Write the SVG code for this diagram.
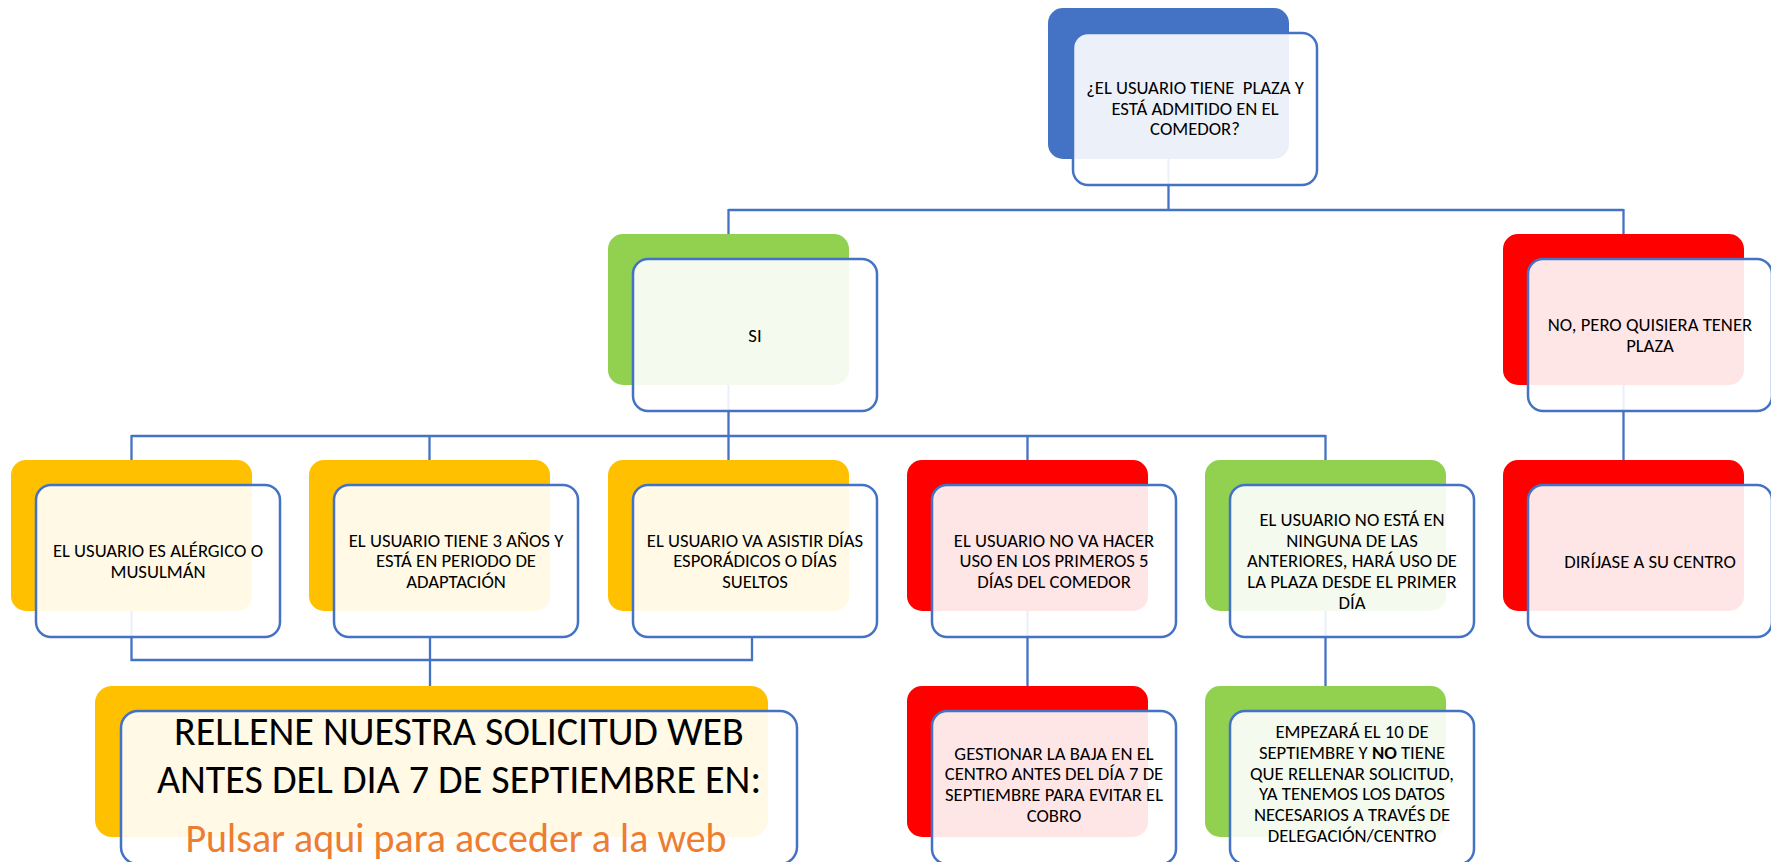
<svg xmlns="http://www.w3.org/2000/svg" width="1771" height="862" viewBox="0 0 1771 862">
<style>
.bg{fill:#fff}
.conn{fill:none;stroke:#4472C4;stroke-width:2.3}
.blue{fill:#4472C4}.green{fill:#92D050}.yellow{fill:#FFC000}.red{fill:#FF0000}
.front{fill:#fff;fill-opacity:0.9;stroke:#4472C4;stroke-width:2.5}
.t{font-family:Carlito,Lato,sans-serif;font-size:18.67px;fill:#000;text-anchor:middle;white-space:pre}
.big{font-family:Carlito,Lato,sans-serif;font-size:40px;fill:#000;text-anchor:middle}
.link{font-family:Carlito,Lato,sans-serif;font-size:40px;fill:#ED7D31;text-anchor:middle}
</style>
<rect class="bg" x="0" y="0" width="1771" height="862"/>
<g id="connectors">
<path class="conn" d="M1168.5,159V210M728.5,210H1623.5M728.5,209V234M1623.5,209V234"/>
<path class="conn" d="M728.5,385V436M131.5,436H1325.5M131.5,435V460M429.5,435V460M728.5,435V460M1027.5,435V460M1325.5,435V460"/>
<path class="conn" d="M1623.5,385V460"/>
<path class="conn" d="M131.5,611V660H752V638M430,638V686"/>
<path class="conn" d="M1027.5,611V686M1325.5,611V686"/>
</g>
<g id="n-top">
<rect class="blue" x="1048" y="8" width="241" height="151" rx="15"/>
<rect class="front" x="1073" y="33" width="244" height="152" rx="15"/>
<text class="t" x="1195" y="94" xml:space="preserve">¿EL USUARIO TIENE  PLAZA Y</text>
<text class="t" x="1195" y="114.7">ESTÁ ADMITIDO EN EL</text>
<text class="t" x="1195" y="135.4">COMEDOR?</text>
</g>
<g id="n-si">
<rect class="green" x="608" y="234" width="241" height="151" rx="15"/>
<rect class="front" x="633" y="259" width="244" height="152" rx="15"/>
<text class="t" x="755" y="341.5">SI</text>
</g>
<g id="n-no">
<rect class="red" x="1503" y="234" width="241" height="151" rx="15"/>
<rect class="front" x="1528" y="259" width="244" height="152" rx="15"/>
<text class="t" x="1650" y="331">NO, PERO QUISIERA TENER</text>
<text class="t" x="1650" y="351.7">PLAZA</text>
</g>
<g id="n-alergico">
<rect class="yellow" x="11" y="460" width="241" height="151" rx="15"/>
<rect class="front" x="36" y="485" width="244" height="152" rx="15"/>
<text class="t" x="158" y="557">EL USUARIO ES ALÉRGICO O</text>
<text class="t" x="158" y="577.7">MUSULMÁN</text>
</g>
<g id="n-3anos">
<rect class="yellow" x="309" y="460" width="241" height="151" rx="15"/>
<rect class="front" x="334" y="485" width="244" height="152" rx="15"/>
<text class="t" x="456" y="546.6">EL USUARIO TIENE 3 AÑOS Y</text>
<text class="t" x="456" y="567.3">ESTÁ EN PERIODO DE</text>
<text class="t" x="456" y="588">ADAPTACIÓN</text>
</g>
<g id="n-esporadicos">
<rect class="yellow" x="608" y="460" width="241" height="151" rx="15"/>
<rect class="front" x="633" y="485" width="244" height="152" rx="15"/>
<text class="t" x="755" y="546.6">EL USUARIO VA ASISTIR DÍAS</text>
<text class="t" x="755" y="567.3">ESPORÁDICOS O DÍAS</text>
<text class="t" x="755" y="588">SUELTOS</text>
</g>
<g id="n-nohacer">
<rect class="red" x="907" y="460" width="241" height="151" rx="15"/>
<rect class="front" x="932" y="485" width="244" height="152" rx="15"/>
<text class="t" x="1054" y="546.6">EL USUARIO NO VA HACER</text>
<text class="t" x="1054" y="567.3">USO EN LOS PRIMEROS 5</text>
<text class="t" x="1054" y="588">DÍAS DEL COMEDOR</text>
</g>
<g id="n-ninguna">
<rect class="green" x="1205" y="460" width="241" height="151" rx="15"/>
<rect class="front" x="1230" y="485" width="244" height="152" rx="15"/>
<text class="t" x="1352" y="525.9">EL USUARIO NO ESTÁ EN</text>
<text class="t" x="1352" y="546.6">NINGUNA DE LAS</text>
<text class="t" x="1352" y="567.3">ANTERIORES, HARÁ USO DE</text>
<text class="t" x="1352" y="588">LA PLAZA DESDE EL PRIMER</text>
<text class="t" x="1352" y="608.7">DÍA</text>
</g>
<g id="n-centro">
<rect class="red" x="1503" y="460" width="241" height="151" rx="15"/>
<rect class="front" x="1528" y="485" width="244" height="152" rx="15"/>
<text class="t" x="1650" y="567.5">DIRÍJASE A SU CENTRO</text>
</g>
<g id="n-solicitud">
<rect class="yellow" x="95" y="686" width="673" height="151" rx="17"/>
<rect class="front" x="121" y="711" width="676" height="153" rx="17"/>
<text class="big" x="459" y="745">RELLENE NUESTRA SOLICITUD WEB</text>
<text class="big" x="459" y="793">ANTES DEL DIA 7 DE SEPTIEMBRE EN:</text>
<text class="link" x="456" y="852">Pulsar aqui para acceder a la web</text>
</g>
<g id="n-baja">
<rect class="red" x="907" y="686" width="241" height="151" rx="15"/>
<rect class="front" x="932" y="711" width="244" height="153" rx="15"/>
<text class="t" x="1054" y="759.5">GESTIONAR LA BAJA EN EL</text>
<text class="t" x="1054" y="780.2">CENTRO ANTES DEL DÍA 7 DE</text>
<text class="t" x="1054" y="800.9">SEPTIEMBRE PARA EVITAR EL</text>
<text class="t" x="1054" y="821.6">COBRO</text>
</g>
<g id="n-empezara">
<rect class="green" x="1205" y="686" width="241" height="151" rx="15"/>
<rect class="front" x="1230" y="711" width="244" height="153" rx="15"/>
<text class="t" x="1352" y="738.2">EMPEZARÁ EL 10 DE</text>
<text class="t" x="1352" y="758.9">SEPTIEMBRE Y <tspan font-weight="bold">NO</tspan> TIENE</text>
<text class="t" x="1352" y="779.6">QUE RELLENAR SOLICITUD,</text>
<text class="t" x="1352" y="800.3">YA TENEMOS LOS DATOS</text>
<text class="t" x="1352" y="821">NECESARIOS A TRAVÉS DE</text>
<text class="t" x="1352" y="841.7">DELEGACIÓN/CENTRO</text>
</g>
</svg>
